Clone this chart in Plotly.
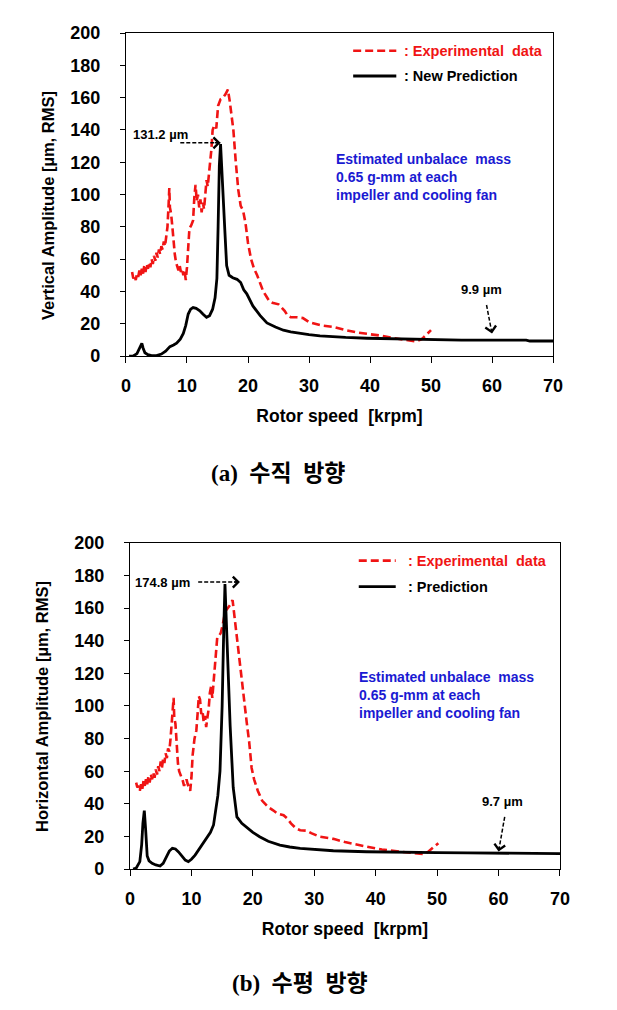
import plotly.graph_objects as go

# ---------------- data : (a) vertical ----------------
exp_v_x = [1.0, 1.2, 1.4, 1.6, 1.8, 2.0, 2.2, 2.4, 2.6, 2.8, 3.0, 3.2, 3.4, 3.6, 3.8, 4.0, 4.2, 4.4, 4.6, 4.8,
           5.0, 5.2, 5.4, 5.6, 5.8, 6.0, 6.2, 6.4, 6.6, 6.8, 7.0, 7.1, 7.2, 7.4, 7.6, 7.8, 8.0, 8.2, 8.4, 8.6,
           8.8, 9.0, 9.2, 9.4, 9.6, 9.8, 10.0, 10.2, 10.4, 10.7, 11.0, 11.2, 11.4, 11.6, 11.8, 12.0, 12.2, 12.4,
           12.6, 12.8, 13.0, 13.2, 13.4, 13.6, 13.8, 14.0, 14.2, 14.5, 14.8, 15.1, 15.5, 15.9, 16.3, 16.7, 17.0,
           17.3, 17.6, 18.0, 18.4, 18.8, 19.2, 19.6, 20.0, 20.5, 21.0, 21.5, 22.0, 22.5, 23.0, 23.5, 24.0, 25.0,
           25.5, 26.0, 26.5, 27.0, 28.0, 29.0, 30.0, 31.0, 32.0, 34.0, 36.0, 38.0, 40.0, 42.0, 44.0, 46.0, 47.5,
           48.5, 49.3, 50.0]
exp_v_y = [52, 48, 50, 47, 51, 49, 53, 50, 54, 51, 56, 52, 57, 54, 58, 55, 60, 57, 62, 59,
           64, 61, 66, 63, 68, 66, 71, 68, 74, 80, 95, 104, 92, 88, 80, 70, 63, 58, 55, 53,
           56, 52, 54, 50, 53, 47, 55, 70, 79, 81, 84, 98, 106, 96, 100, 92, 97, 89,
           95, 91, 102, 109, 105, 112, 118, 128, 140, 143, 141, 155, 159, 160, 162, 165, 158,
           150, 140, 120, 103, 93, 90, 82, 70, 60, 54, 50, 45, 40, 37, 34, 33, 32,
           30, 28, 25, 24, 24, 23.5, 21, 20, 19, 18, 16, 14.5, 13.5, 12.5, 11, 10, 9,
           10.5, 13.5, 16]

pred_v_x = [0.5, 1.2, 1.8, 2.3, 2.6, 2.8, 3.1, 3.6, 4.2, 5.0, 5.8, 6.5, 7.2, 7.8, 8.3, 8.9, 9.4, 9.8, 10.2,
            10.6, 11.0, 11.5, 12.1, 12.6, 13.2, 13.7, 14.2, 14.6, 14.9, 15.1, 15.3, 15.5, 15.7, 15.95, 16.2,
            16.5, 16.9, 17.5, 18.2, 18.8, 19.3, 19.8, 20.8, 22.0, 23.1, 24.5, 25.8, 27.0, 28.5, 30.0, 31.8,
            34.0, 36.0, 39.5, 42.0, 45.0, 49.3, 50.4, 55.0, 60.0, 65.6, 66.2, 70.0]
pred_v_y = [0, 0, 1.5, 5, 7.8, 5, 2, 0.8, 0.3, 0.3, 1.2, 3, 5.8, 6.8, 8, 10.5, 14, 19, 26,
            29, 30, 29.5, 28, 26, 24, 25, 29, 36, 48, 80, 118, 131.2, 118, 95, 78,
            56, 50, 48.5, 47.5, 45.5, 41, 38.5, 31, 25, 20.5, 18, 16, 15, 14, 13.3, 12.5,
            11.8, 11.5, 11, 10.8, 10.6, 10.3, 9.9, 9.9, 9.9, 9.9, 9.3, 9.3]

# ---------------- data : (b) horizontal ----------------
exp_h_x = [1.0, 1.2, 1.4, 1.6, 1.8, 2.0, 2.2, 2.4, 2.6, 2.8, 3.0, 3.2, 3.4, 3.6, 3.8, 4.0, 4.2, 4.4, 4.6, 4.8,
           5.0, 5.2, 5.4, 5.6, 5.8, 6.0, 6.2, 6.4, 6.6, 6.8, 7.0, 7.1, 7.2, 7.4, 7.6, 7.8, 8.0, 8.2, 8.4, 8.6,
           8.8, 9.0, 9.2, 9.4, 9.6, 9.8, 10.0, 10.2, 10.5, 10.8, 11.0, 11.2, 11.4, 11.6, 11.8, 12.0, 12.2, 12.4,
           12.6, 12.8, 13.0, 13.2, 13.4, 13.6, 13.9, 14.2, 14.5, 14.8, 15.1, 15.5, 15.9, 16.3, 16.7, 17.0,
           17.4, 17.8, 18.2, 18.6, 19.0, 19.4, 19.8, 20.2, 20.8, 21.5, 22.5, 23.3, 24.0, 25.0, 25.6, 26.2,
           27.0, 27.7, 28.8, 29.5, 30.9, 33.1, 35.0, 38.5, 41.0, 44.0, 46.0, 47.7, 48.5, 49.3, 50.2]
exp_h_y = [53, 50, 51, 48, 52, 49, 54, 51, 55, 52, 57, 53, 58, 55, 59, 56, 61, 58, 63, 60,
           66, 62, 68, 65, 71, 68, 74, 72, 80, 88, 100, 105, 93, 89, 72, 65, 60, 58, 57, 54,
           51, 53, 55, 52, 50, 48, 56, 70, 80, 85, 95, 106, 104, 95, 97, 90, 94, 87,
           93, 98, 108, 112, 105, 115, 130, 142, 143, 145, 150, 158, 160, 162, 165, 155,
           140, 130, 115, 100, 90, 78, 62, 55, 48, 42, 38, 36, 34, 33, 31, 28,
           25, 23.8, 23.5, 22, 19.8, 18.5, 16.5, 13.7, 12, 10.6, 9.8, 9.2, 10.5, 13, 15.8]

pred_h_x = [0.5, 1.0, 1.6, 1.9, 2.1, 2.33, 2.55, 2.8, 3.1, 3.6, 4.2, 4.9, 5.4, 5.9, 6.4, 6.9, 7.4, 7.9, 8.4,
            9.0, 9.5, 10.0, 10.6, 11.2, 11.9, 12.5, 13.1, 13.6, 14.0, 14.3, 14.65, 15.0, 15.25, 15.46, 15.7,
            15.95, 16.3, 16.8, 17.4, 18.2, 19.0, 20.0, 21.1, 22.5, 24.4, 26.0, 27.7, 30.9, 33.1, 38.5, 44.0,
            50.0, 55.0, 60.0, 60.8, 65.0, 70.0]
pred_h_y = [0, 0.5, 4.5, 15, 28, 35.8, 24, 8, 5, 3.5, 2.5, 1.8, 3.5, 7.5, 11, 12.7, 12.3, 10.5, 8,
            5.5, 4.5, 6, 8.5, 12, 15.5, 18.8, 22.5, 27, 36, 45, 60, 100, 145, 174.8, 150,
            120, 88, 50, 32, 28, 25.5, 22.5, 19.8, 17, 14.7, 13.5, 12.7, 11.7, 11.2, 10.6, 10.2,
            10.0, 9.9, 9.7, 9.4, 9.4, 9.4]

x_ticks = [0, 10, 20, 30, 40, 50, 60, 70]
y_ticks = [0, 20, 40, 60, 80, 100, 120, 140, 160, 180, 200]

peak_v_label = "131.2 µm"
peak_h_label = "174.8 µm"
low_v_label = "9.9 µm"
low_h_label = "9.7 µm"

RED = "#f01414"
BLUE = "#1a1ad2"
FONT = "Arial, 'Liberation Sans', sans-serif"

fig = go.Figure()

def add_panel(xa, ya, ex, ey, px, py):
    fig.add_trace(go.Scatter(x=ex, y=ey, mode="lines", xaxis=xa, yaxis=ya, showlegend=False,
                             line=dict(color=RED, width=2.6, dash="8px,4px")))
    fig.add_trace(go.Scatter(x=px, y=py, mode="lines", xaxis=xa, yaxis=ya, showlegend=False,
                             line=dict(color="black", width=2.8)))

add_panel("x", "y", exp_v_x, exp_v_y, pred_v_x, pred_v_y)
add_panel("x2", "y2", exp_h_x, exp_h_y, pred_h_x, pred_h_y)

axis_common = dict(showline=True, linecolor="black", linewidth=1.3, mirror=True,
                   ticks="outside", tickwidth=1.3, tickcolor="black", showgrid=False, zeroline=False,
                   tickfont=dict(family=FONT, size=18, color="black", weight="bold"))

xtitle_font = dict(family=FONT, size=17.5, color="black", weight="bold")
ytitle_font = dict(family=FONT, size=16.5, color="black", weight="bold")

fig.update_layout(
    width=617, height=1010, margin=dict(l=0, r=0, t=0, b=0, autoexpand=False),
    paper_bgcolor="white", plot_bgcolor="white", showlegend=False,
    xaxis=dict(axis_common, domain=[0.2042, 0.8963], anchor="y", range=[0, 70], tickvals=x_ticks,
               ticklen=6, ticklabelstandoff=7, automargin=False,
               title=dict(text="Rotor speed\u00a0 [krpm]", font=xtitle_font, standoff=14)),
    yaxis=dict(axis_common, domain=[0.6475, 0.9673], anchor="x", range=[0, 200], tickvals=y_ticks,
               ticklen=5, ticklabelstandoff=16, automargin=False),
    xaxis2=dict(axis_common, domain=[0.2107, 0.9076], anchor="y2", range=[0, 70], tickvals=x_ticks,
                ticklen=6, ticklabelstandoff=7, automargin=False,
                title=dict(text="Rotor speed\u00a0 [krpm]", font=xtitle_font, standoff=14)),
    yaxis2=dict(axis_common, domain=[0.1396, 0.4624], anchor="x2", range=[0, 200], tickvals=y_ticks,
                ticklen=5, ticklabelstandoff=16, automargin=False),
)

shapes = []
annotations = []

# y-axis titles
annotations.append(dict(xref="paper", yref="paper", x=48 / 617, y=1 - 206 / 1010, textangle=-90,
                        xanchor="center", yanchor="middle",
                        showarrow=False, text="Vertical Amplitude [µm, RMS]", font=ytitle_font))
annotations.append(dict(xref="paper", yref="paper", x=42 / 617, y=1 - 707 / 1010, textangle=-90,
                        xanchor="center", yanchor="middle",
                        showarrow=False, text="Horizontal Amplitude [µm, RMS]", font=ytitle_font))

def legend_block(xa, ya, x0, x1, xt, y_red, y_black, pred_name):
    shapes.append(dict(type="line", xref=f"{xa} domain", yref=f"{ya} domain", x0=x0, x1=x1,
                       y0=y_red, y1=y_red, line=dict(color=RED, width=2.6, dash="8px,4px")))
    shapes.append(dict(type="line", xref=f"{xa} domain", yref=f"{ya} domain", x0=x0, x1=x1,
                       y0=y_black, y1=y_black, line=dict(color="black", width=2.8)))
    annotations.append(dict(xref=f"{xa} domain", yref=f"{ya} domain", x=xt, y=y_red, xanchor="left",
                            yanchor="middle", showarrow=False, text=":\u00a0Experimental\u00a0 data",
                            font=dict(family=FONT, size=14.5, color=RED, weight="bold")))
    annotations.append(dict(xref=f"{xa} domain", yref=f"{ya} domain", x=xt, y=y_black, xanchor="left",
                            yanchor="middle", showarrow=False, text=":\u00a0" + pred_name,
                            font=dict(family=FONT, size=14.5, color="black", weight="bold")))

legend_block("x", "y", 0.532, 0.633, 0.646, 0.945, 0.867, "New Prediction")
legend_block("x2", "y2", 0.532, 0.618, 0.643, 0.946, 0.866, "Prediction")

blue_text = "Estimated unbalace\u00a0 mass<br>0.65 g-mm at each<br>impeller and cooling fan"
annotations.append(dict(xref="x domain", yref="y domain", x=0.487, y=0.555, xanchor="left",
                        yanchor="middle", align="left", showarrow=False, text=blue_text,
                        font=dict(family=FONT, size=14, color=BLUE, weight="bold")))
annotations.append(dict(xref="x2 domain", yref="y2 domain", x=0.527, y=0.534, xanchor="left",
                        yanchor="middle", align="left", showarrow=False, text=blue_text,
                        font=dict(family=FONT, size=14, color=BLUE, weight="bold")))

def dashed_arrow(xa, ya, tx, ty, hx, hy):
    shapes.append(dict(type="line", xref=xa, yref=ya, x0=tx, y0=ty, x1=hx, y1=hy,
                       line=dict(color="black", width=1.5, dash="4px,2px")))
    f = 0.15
    annotations.append(dict(xref=xa, yref=ya, axref=xa, ayref=ya, x=hx, y=hy,
                            ax=hx - f * (hx - tx), ay=hy - f * (hy - ty), text="", showarrow=True,
                            font=dict(size=1), borderpad=0,
                            arrowhead=4, arrowsize=1.4, arrowwidth=1.5, arrowcolor="black", standoff=0))

def label(xa, ya, x, y, txt, anchor="center"):
    annotations.append(dict(xref=xa, yref=ya, x=x, y=y, xanchor=anchor, yanchor="middle",
                            showarrow=False, text=txt,
                            font=dict(family=FONT, size=13, color="black", weight="bold")))

iv = pred_v_y.index(max(pred_v_y))
dashed_arrow("x", "y", 8.9, pred_v_y[iv] + 0.8, pred_v_x[iv], pred_v_y[iv] + 0.8)
label("x", "y", 10.5, 137, peak_v_label, "right")
ih = pred_h_y.index(max(pred_h_y))
dashed_arrow("x2", "y2", 11.1, pred_h_y[ih] + 1.2, 17.9, pred_h_y[ih] + 1.2)
label("x2", "y2", 10.1, 176, peak_h_label, "right")

jv = pred_v_x.index(60.0)
dashed_arrow("x", "y", 59.1, 31.6, pred_v_x[jv], pred_v_y[jv] + 4)
label("x", "y", 58.3, 41, low_v_label)
jh = pred_h_x.index(60.0)
dashed_arrow("x2", "y2", 61.0, 32, pred_h_x[jh], pred_h_y[jh] + 1)
label("x2", "y2", 60.6, 41.3, low_h_label)

cap_font = dict(family="'Liberation Serif', 'Noto Sans CJK KR', serif",
                size=23, color="black", weight="bold")
annotations.append(dict(xref="paper", yref="paper", x=0.4506, y=1 - 473 / 1010, showarrow=False,
                        xanchor="center", yanchor="middle",
                        text="(a)\u00a0 수직\u00a0 방향", font=cap_font))
annotations.append(dict(xref="paper", yref="paper", x=0.486, y=1 - 983 / 1010, showarrow=False,
                        xanchor="center", yanchor="middle",
                        text="(b)\u00a0 수평\u00a0 방향", font=cap_font))

fig.update_layout(shapes=shapes, annotations=annotations)
fig.write_html("out.html", config={"displayModeBar": False},
               post_script="document.body.style.margin='0';document.body.style.overflow='hidden';")
